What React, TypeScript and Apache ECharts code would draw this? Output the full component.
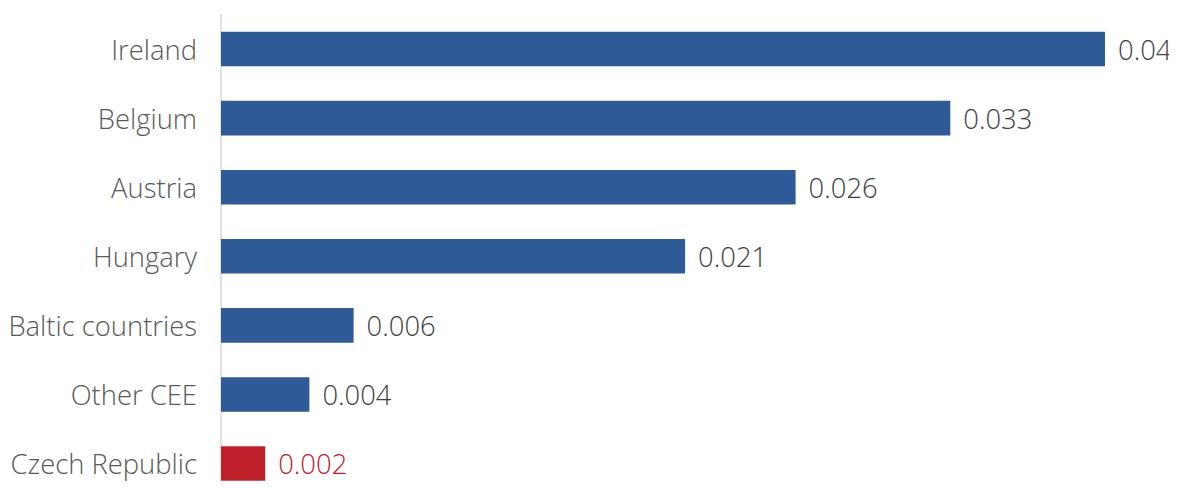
import React, { useEffect, useRef } from "react";
import * as echarts from "echarts";

const categories = ["Ireland", "Belgium", "Austria", "Hungary", "Baltic countries", "Other CEE", "Czech Republic"];
const values = [0.04, 0.033, 0.026, 0.021, 0.006, 0.004, 0.002];
const highlight = ["Czech Republic"];

const BLUE = "#2e5b97";
const RED = "#c0202a";

export default function App() {
  const ref = useRef<HTMLDivElement>(null);
  useEffect(() => {
    if (!ref.current) return;
    const chart = echarts.init(ref.current, undefined, { renderer: "svg" });
    const font = "'Open Sans', 'Noto Sans', sans-serif";
    chart.setOption({
      animation: false,
      grid: { left: 213, right: 72, top: 6.5, bottom: 9.9, containLabel: false, outerBoundsMode: "none" },
      xAxis: {
        type: "value",
        min: 0,
        max: 0.04,
        show: false,
        splitLine: { show: false },
      },
      yAxis: {
        type: "category",
        data: categories,
        inverse: true,
        axisTick: { show: false },
        axisLine: { show: true, lineStyle: { color: "#d9d9d9", width: 1.5 } },
        axisLabel: { color: "#595959", fontSize: 27.4, fontWeight: 300, fontFamily: font, margin: 24, padding: [0, 0, 5, 0] },
      },
      series: [
        {
          type: "bar",
          barCategoryGap: "50%",
          data: categories.map((c, i) => {
            const hi = highlight.includes(c);
            return {
              value: values[i],
              itemStyle: { color: hi ? RED : BLUE },
              label: { color: hi ? RED : "#404040" },
            };
          }),
          label: {
            show: true,
            position: "right",
            distance: 13,
            fontSize: 27.4,
            fontWeight: 300,
            fontFamily: font,
            padding: [0, 0, 3, 0],
            formatter: (p: any) => String(p.value),
          },
        },
      ],
    });
    return () => chart.dispose();
  }, []);
  return (
    <div style={{ width: 1169, height: 481, overflow: "hidden", marginBottom: -8 }}>
      <div ref={ref} style={{ width: 1169, height: 500 }} />
    </div>
  );
}
